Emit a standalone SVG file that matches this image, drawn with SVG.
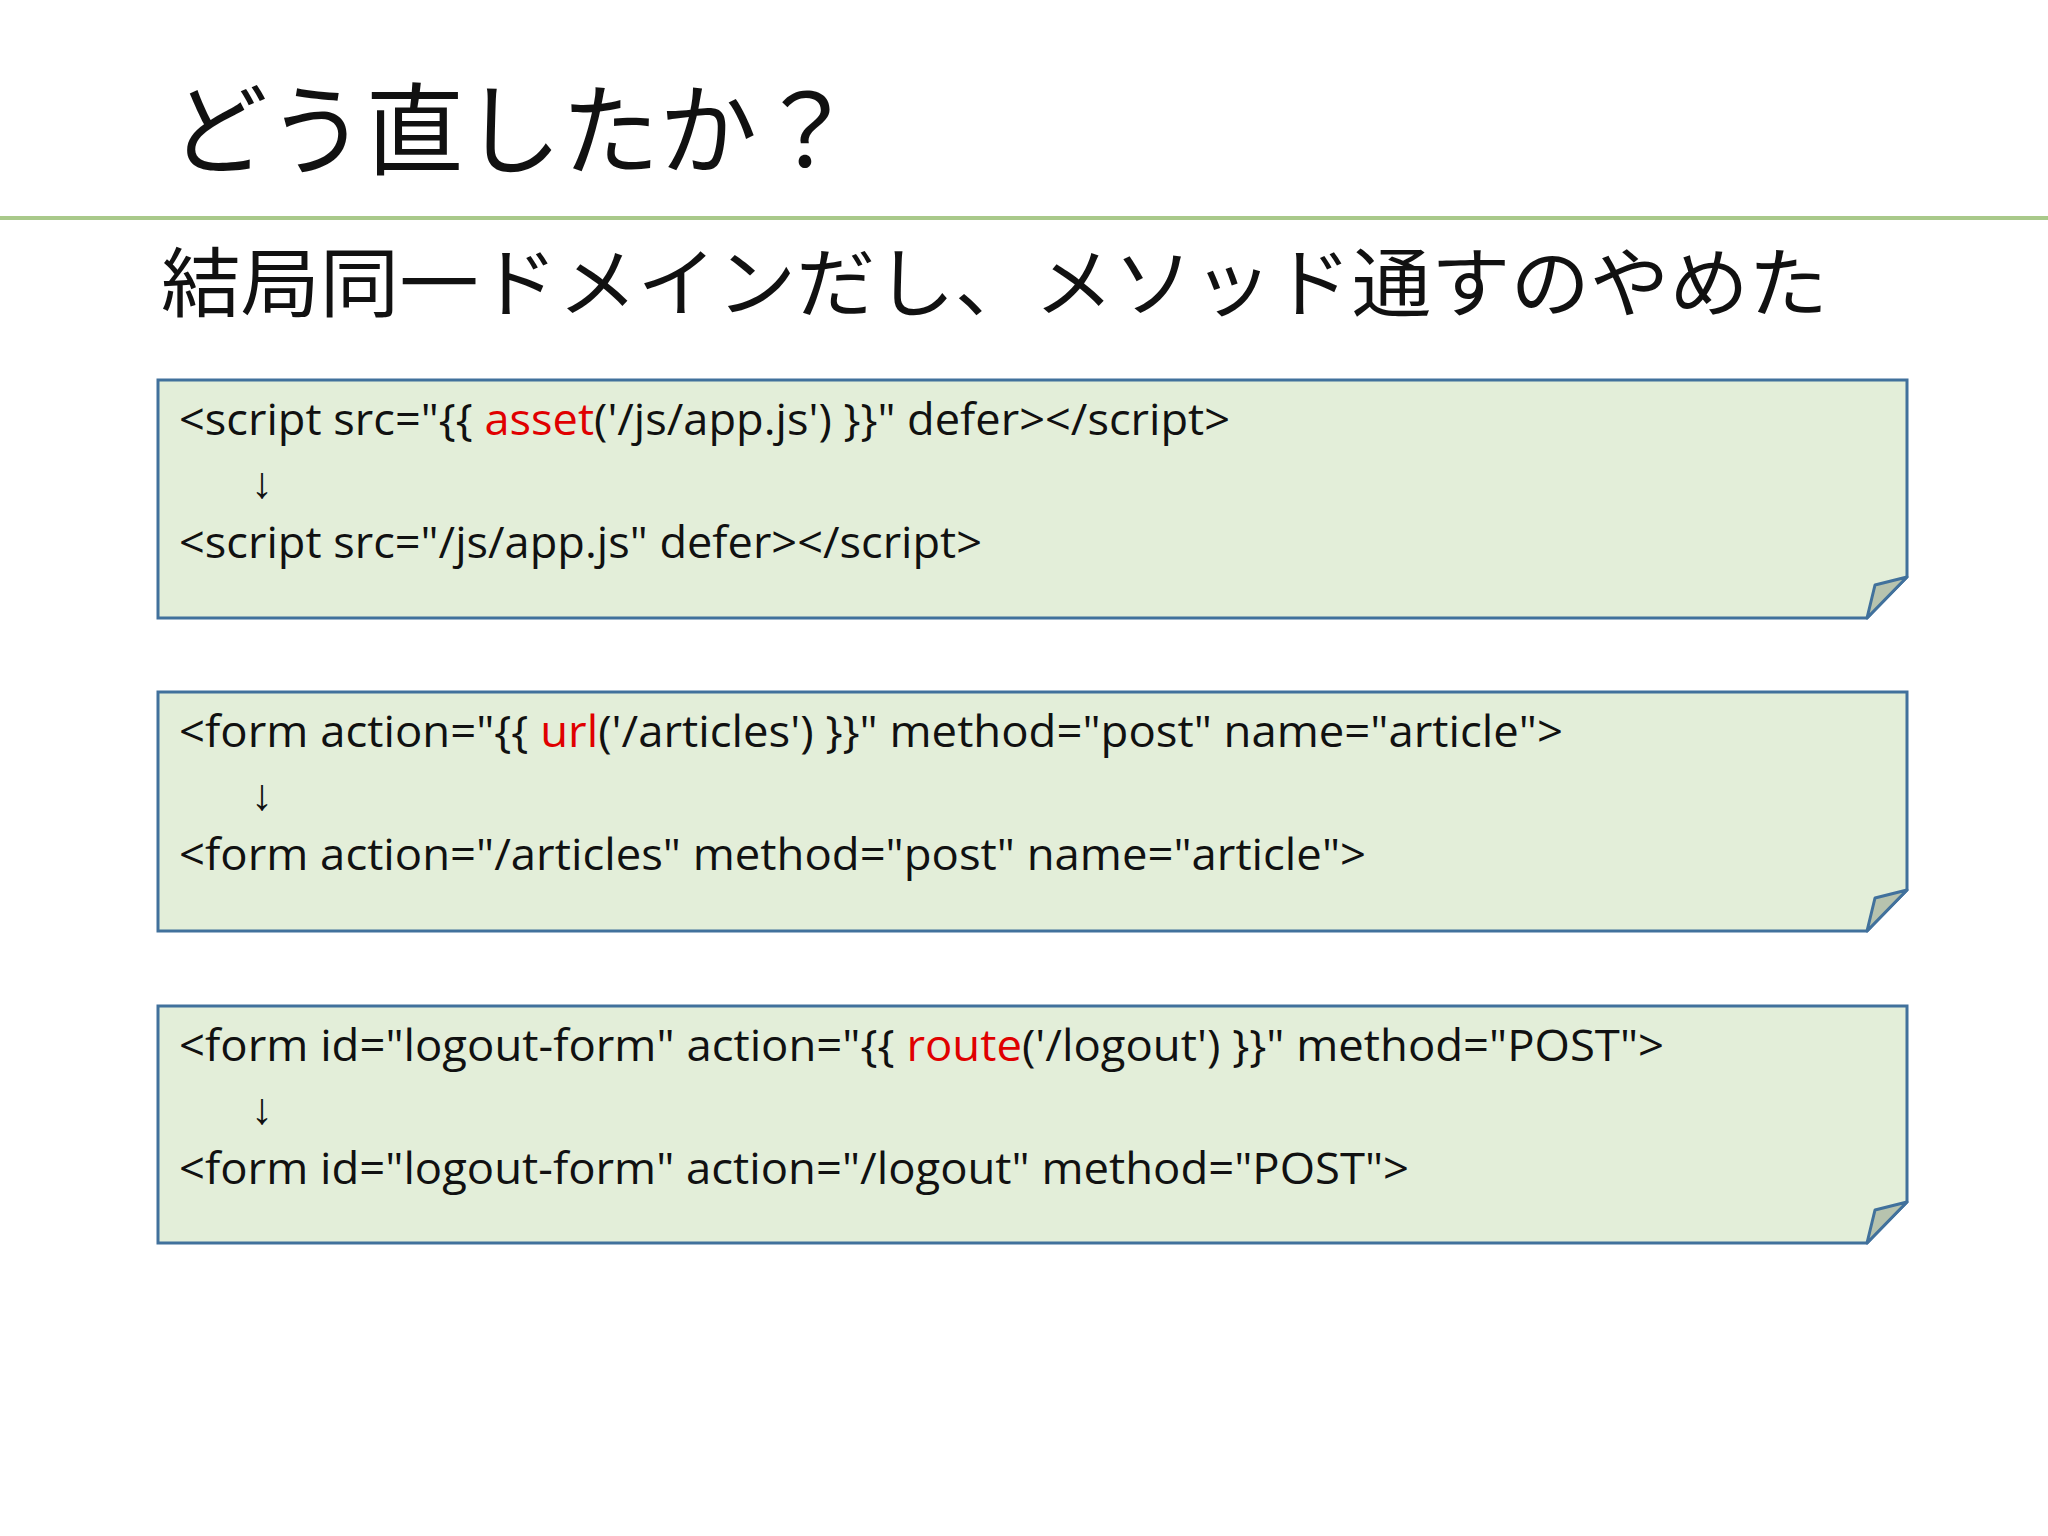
<svg xmlns="http://www.w3.org/2000/svg" width="2048" height="1536" viewBox="0 0 2048 1536">
<style>
.box{fill:#e3eed9;stroke:#41719c;stroke-width:3}
.fold{fill:#b7c3ae;stroke:#41719c;stroke-width:3;stroke-linejoin:round}
.code{font-family:"Open Sans","Liberation Sans",sans-serif;font-size:44px;fill:#111}
.red{fill:#e00000}
.jp{font-family:"Noto Sans CJK JP",sans-serif;fill:#111}
</style>
<rect width="2048" height="1536" fill="#fff"/>
<text class="jp" x="170" y="167" font-size="100" textLength="685" lengthAdjust="spacingAndGlyphs">どう直したか？</text>
<line x1="0" y1="218" x2="2048" y2="218" stroke="#a9c98a" stroke-width="4"/>
<text class="jp" x="161" y="311" font-size="76" textLength="1667" lengthAdjust="spacingAndGlyphs">結局同一ドメインだし、メソッド通すのやめた</text>
<g id="box1">
<path class="box" d="M158,380 H1907 V577 L1867,618 H158 Z"/>
<path class="fold" d="M1867,618 L1875,585 L1907,577 Z"/>
<text class="code" x="179" y="435" textLength="1051" lengthAdjust="spacingAndGlyphs">&lt;script src="{{ <tspan class="red">asset</tspan>('/js/app.js') }}" defer&gt;&lt;/script&gt;</text>
<text class="code" x="251" y="498">↓</text>
<text class="code" x="179" y="558" textLength="803" lengthAdjust="spacingAndGlyphs">&lt;script src="/js/app.js" defer&gt;&lt;/script&gt;</text>
</g>
<g id="box2">
<path class="box" d="M158,692 H1907 V890 L1867,931 H158 Z"/>
<path class="fold" d="M1867,931 L1875,898 L1907,890 Z"/>
<text class="code" x="179" y="747" textLength="1384" lengthAdjust="spacingAndGlyphs">&lt;form action="{{ <tspan class="red">url</tspan>('/articles') }}" method="post" name="article"&gt;</text>
<text class="code" x="251" y="810">↓</text>
<text class="code" x="179" y="870" textLength="1187" lengthAdjust="spacingAndGlyphs">&lt;form action="/articles" method="post" name="article"&gt;</text>
</g>
<g id="box3">
<path class="box" d="M158,1006 H1907 V1202 L1867,1243 H158 Z"/>
<path class="fold" d="M1867,1243 L1875,1210 L1907,1202 Z"/>
<text class="code" x="179" y="1061" textLength="1485" lengthAdjust="spacingAndGlyphs">&lt;form id="logout-form" action="{{ <tspan class="red">route</tspan>('/logout') }}" method="POST"&gt;</text>
<text class="code" x="251" y="1124">↓</text>
<text class="code" x="179" y="1184" textLength="1230" lengthAdjust="spacingAndGlyphs">&lt;form id="logout-form" action="/logout" method="POST"&gt;</text>
</g>
<g id="connectors"/>
</svg>
